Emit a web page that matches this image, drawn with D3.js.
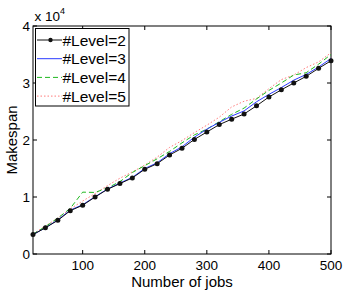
<!DOCTYPE html>
<html lang="en">
  <head>
    <meta charset="UTF-8" />
    <script src="https://d3js.org/d3.v7.min.js"></script>
    <title>Makespan vs jobs</title>
    <style>
      body { margin: 0; background: #fff; }
      svg text { font-family: "Liberation Sans", Arial, sans-serif; fill: #000; }
      .tick-label { font-size: 13.5px; }
      .axis-label { font-size: 15px; }
      .legend-text { font-size: 15.5px; }
    </style>
  </head>
  <body>
    <svg id="chart" width="346" height="290"></svg>
    <script>
      // number of jobs
      const jobs = [20, 40, 60, 80, 100, 120, 140, 160, 180, 200, 220, 240, 260,
        280, 300, 320, 340, 360, 380, 400, 420, 440, 460, 480, 500];

      // makespan for each level count
      const level2 = [3400, 4600, 5900, 7600, 8550, 10000, 11350, 12350, 13350, 14860,
        15850, 17370, 18550, 20100, 21400, 22700, 23650, 24560, 26000, 27540,
        28800, 30000, 31170, 32570, 33900];
      const level3 = [3400, 4600, 6000, 7700, 8650, 10050, 11400, 12450, 13450, 15000,
        16000, 17600, 18800, 20500, 21900, 23100, 24200, 25100, 26700, 28000,
        29200, 30500, 31500, 32800, 34300];
      const level4 = [3500, 4800, 6300, 8000, 10850, 10800, 11600, 12700, 14300, 15500,
        16700, 18000, 19500, 20900, 21900, 23200, 24500, 25600, 27200, 28700,
        30000, 31400, 31800, 33300, 35000];
      const level5 = [3500, 4900, 6300, 7900, 9300, 10600, 12000, 13300, 14400, 15600,
        17000, 18700, 19900, 21300, 22600, 24000, 25800, 26800, 27300, 29000,
        30600, 31400, 32700, 33700, 35300];

      const seriesNames = ["#Level=2", "#Level=3", "#Level=4", "#Level=5"];
      const xTicks = [100, 200, 300, 400, 500];
      const yTicks = [0, 10000, 20000, 30000, 40000];

      const series = [
        { name: seriesNames[0], values: level2, color: "#111", dash: null, dots: true },
        { name: seriesNames[1], values: level3, color: "#2b3bff", dash: null, dots: false },
        { name: seriesNames[2], values: level4, color: "#1fb81f", dash: "5,3", dots: false },
        { name: seriesNames[3], values: level5, color: "#ff7b7b", dash: "1.5,2", dots: false },
      ];

      const svg = d3.select("#chart");
      const pLeft = 33, pRight = 331, pTop = 26, pBottom = 254;

      const x = d3.scaleLinear().domain([20, 500]).range([pLeft, pRight]);
      const y = d3.scaleLinear().domain([0, 40000]).range([pBottom, pTop]);

      // frame
      svg.append("rect")
        .attr("x", pLeft).attr("y", pTop)
        .attr("width", pRight - pLeft).attr("height", pBottom - pTop)
        .attr("fill", "none").attr("stroke", "#000").attr("stroke-width", 1);

      // ticks (inside, on all four sides)
      const tickLen = 4;
      xTicks.forEach((t) => {
        svg.append("line").attr("x1", x(t)).attr("x2", x(t))
          .attr("y1", pBottom).attr("y2", pBottom - tickLen).attr("stroke", "#000");
        svg.append("line").attr("x1", x(t)).attr("x2", x(t))
          .attr("y1", pTop).attr("y2", pTop + tickLen).attr("stroke", "#000");
        svg.append("text").attr("class", "tick-label")
          .attr("x", x(t)).attr("y", pBottom + 15.5)
          .attr("text-anchor", "middle").text(t);
      });
      yTicks.forEach((t) => {
        svg.append("line").attr("x1", pLeft).attr("x2", pLeft + tickLen)
          .attr("y1", y(t)).attr("y2", y(t)).attr("stroke", "#000");
        svg.append("line").attr("x1", pRight).attr("x2", pRight - tickLen)
          .attr("y1", y(t)).attr("y2", y(t)).attr("stroke", "#000");
        svg.append("text").attr("class", "tick-label")
          .attr("x", pLeft - 3).attr("y", y(t) + 5)
          .attr("text-anchor", "end").text(t / 10000);
      });

      // exponent label
      const expo = svg.append("text").attr("class", "tick-label")
        .attr("x", 34.5).attr("y", 21);
      expo.append("tspan").text("x 10");
      expo.append("tspan").attr("dy", -7).style("font-size", "9px").text("4");

      // axis labels
      svg.append("text").attr("class", "axis-label")
        .attr("x", (pLeft + pRight) / 2).attr("y", 286.5)
        .attr("text-anchor", "middle").text("Number of jobs");
      svg.append("text").attr("class", "axis-label")
        .attr("transform", `translate(17,${(pTop + pBottom) / 2}) rotate(-90)`)
        .attr("text-anchor", "middle").text("Makespan");

      // lines
      const line = d3.line().x((d, i) => x(jobs[i])).y((d) => y(d));
      series.slice().reverse().forEach((s) => {
        svg.append("path").datum(s.values)
          .attr("d", line).attr("fill", "none")
          .attr("stroke", s.color).attr("stroke-width", 1)
          .attr("stroke-dasharray", s.dash);
        if (s.dots) {
          svg.selectAll(null).data(s.values).enter().append("circle")
            .attr("cx", (d, i) => x(jobs[i])).attr("cy", (d) => y(d))
            .attr("r", 2.5).attr("fill", s.color);
        }
      });

      // legend
      const lg = svg.append("g");
      lg.append("rect").attr("x", 35.5).attr("y", 28.5).attr("width", 93.5).attr("height", 77.5)
        .attr("fill", "#fff").attr("stroke", "#000").attr("stroke-width", 1);
      series.forEach((s, i) => {
        const ly = 40 + i * 18.7;
        lg.append("line").attr("x1", 37).attr("x2", 62).attr("y1", ly).attr("y2", ly)
          .attr("stroke", s.color).attr("stroke-dasharray", s.dash);
        if (s.dots) {
          lg.append("circle").attr("cx", 50.5).attr("cy", ly).attr("r", 2.2).attr("fill", s.color);
        }
        lg.append("text").attr("class", "legend-text")
          .attr("x", 62.5).attr("y", ly + 5.5).text(s.name);
      });
    </script>
  </body>
</html>
